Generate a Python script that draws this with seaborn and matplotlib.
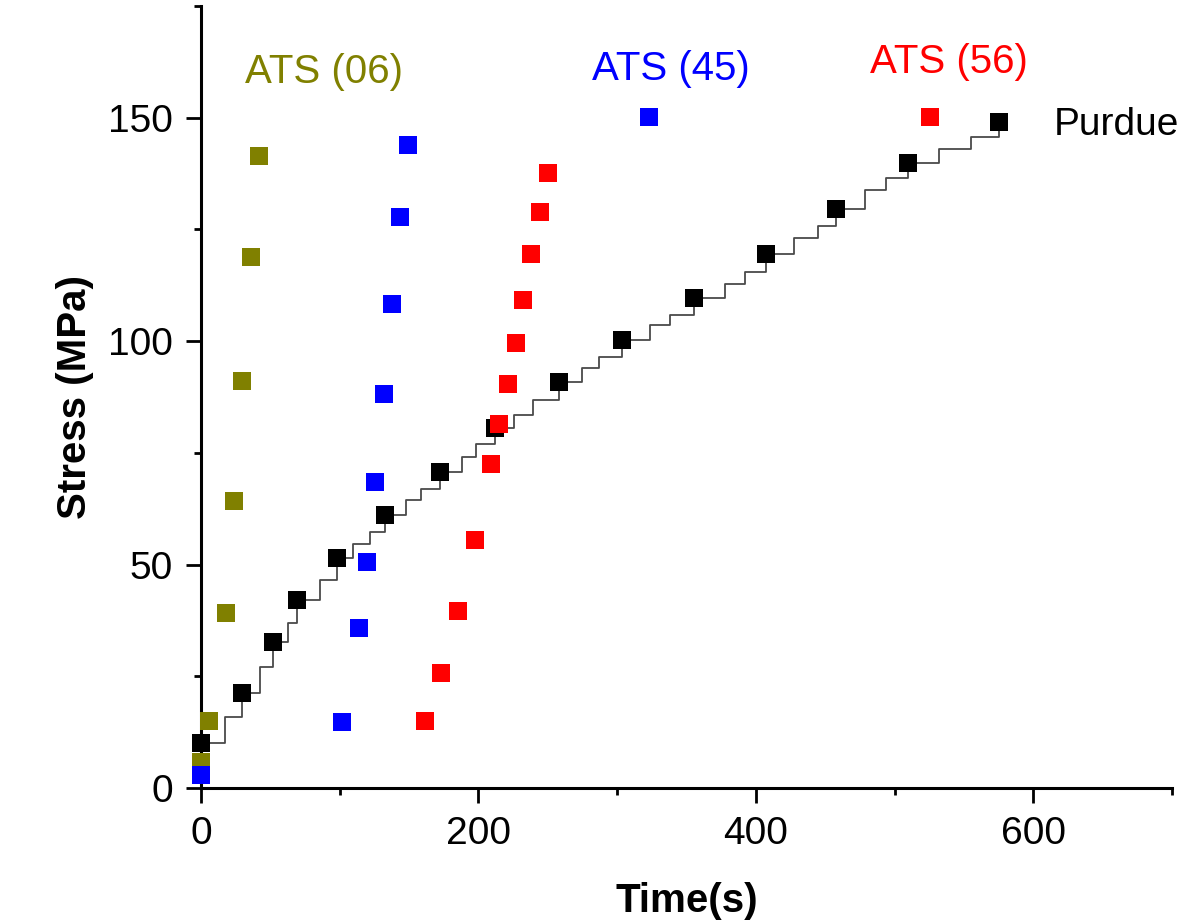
import numpy as np
import pandas as pd
import seaborn as sns
import matplotlib
matplotlib.use("Agg")
import matplotlib.pyplot as plt
from matplotlib.ticker import MultipleLocator

# Creep-loading data: time (s) vs. applied stress (MPa)
ats06_time = [0, 6, 18, 23.7, 29.5, 36, 41.9]
ats06_stress = [5.9, 15.0, 39.1, 64.2, 91.0, 118.9, 141.5]

ats45_time = [0, 101.9, 113.7, 119.4, 125.2, 131.7, 137.4, 143.4, 149.6, 323]
ats45_stress = [2.9, 14.8, 35.9, 50.6, 68.5, 88.1, 108.3, 127.8, 143.8, 150.2]

ats56_time = [161.4, 173.4, 185.3, 197.3, 209.4, 215.1, 221.1, 227.3, 232.4,
              238.1, 244.6, 250.4, 525.7]
ats56_stress = [15.1, 25.8, 39.6, 55.4, 72.6, 81.4, 90.3, 99.6, 109.2,
                119.5, 128.9, 137.6, 150.2]

purdue_time = [0, 29.3, 52.1, 69, 97.8, 132.6, 172.2, 212, 258, 303.4,
               355.4, 407.4, 458, 510, 575.5]
purdue_stress = [10.1, 21.2, 32.6, 42.1, 51.5, 61.0, 70.8, 80.6, 90.8, 100.2,
                 109.6, 119.5, 129.5, 139.8, 149.1]

# Staircase load history of the Purdue test (value holds until next time)
step_time = [0, 17.3, 29.3, 42.4, 52.1, 62.6, 69, 85.6, 97.8, 109.8, 121.8,
             132.6, 147.5, 158.3, 172.2, 188.2, 198.3, 212, 225.4, 239.6, 258,
             275, 286.6, 303.4, 323.7, 338, 355.4, 377.5, 391.9, 407.4, 427.5,
             444.6, 458, 478.4, 494, 510, 532, 555, 575.5]
step_stress = [10.1, 15.9, 21.2, 27.1, 32.6, 36.9, 42.1, 46.6, 51.5, 54.5, 57.2,
               61.0, 64.4, 66.9, 70.8, 74.1, 76.9, 80.6, 83.4, 86.8, 90.8,
               93.9, 96.5, 100.2, 103.6, 105.8, 109.6, 112.8, 115.4, 119.5, 123.0,
               125.8, 129.5, 133.8, 136.4, 139.8, 143.0, 145.7, 149.1]

series_names = ["ATS (06)", "ATS (45)", "ATS (56)"]
series_colors = ["#808000", "#0000FF", "#FF0000"]

sns.set_style("ticks")
plt.rcParams["font.family"] = ["Liberation Sans", "DejaVu Sans"]
plt.rcParams["text.color"] = "black"
plt.rcParams["axes.labelcolor"] = "black"

fig = plt.figure(figsize=(11.8, 9.21), dpi=100)
ax = fig.add_axes([0.1703, 0.1444, 0.8229, 0.8491])

steps = pd.DataFrame({"t": step_time, "s": step_stress})
sns.lineplot(data=steps, x="t", y="s", ax=ax, drawstyle="steps-post",
             color="#4a4a4a", linewidth=1.3, estimator=None, sort=False,
             zorder=2, clip_on=False)

purdue = pd.DataFrame({"t": purdue_time, "s": purdue_stress})
sns.scatterplot(data=purdue, x="t", y="s", ax=ax, marker="s", s=150,
                color="black", linewidth=0, zorder=3, clip_on=False)

ats_sets = [(ats06_time, ats06_stress), (ats45_time, ats45_stress),
            (ats56_time, ats56_stress)]
for (tt, ss), col in zip(ats_sets, series_colors):
    df = pd.DataFrame({"t": tt, "s": ss})
    sns.scatterplot(data=df, x="t", y="s", ax=ax, marker="s", s=150,
                    color=col, linewidth=0, zorder=4, clip_on=False)

# Series labels placed in data coordinates
label_pos = [(31.7, 157.8), (281.7, 158.4), (482.3, 159.9)]
for name, col, (lx, ly) in zip(series_names, series_colors, label_pos):
    ax.text(lx, ly, name, color=col, fontsize=29, ha="left", va="baseline")
ax.text(614.5, 146.1, "Purdue", color="black", fontsize=28, ha="left",
        va="baseline", clip_on=False)

ax.set_xlim(0, 700)
ax.set_ylim(0, 175)
ax.xaxis.set_major_locator(MultipleLocator(200))
ax.xaxis.set_minor_locator(MultipleLocator(100))
ax.yaxis.set_major_locator(MultipleLocator(50))
ax.yaxis.set_minor_locator(MultipleLocator(25))

ax.tick_params(which="major", direction="out", length=11, width=2,
               labelsize=28, pad=9, color="black", labelcolor="black")
ax.tick_params(which="minor", direction="out", length=5, width=2,
               color="black")

for side in ["top", "right"]:
    ax.spines[side].set_visible(False)
for side in ["left", "bottom"]:
    ax.spines[side].set_linewidth(2.2)
    ax.spines[side].set_color("black")
    ax.spines[side].set_zorder(1)

ax.set_xlabel("Time(s)", fontsize=29, fontweight="bold", labelpad=22,
              color="black")
ax.set_ylabel("Stress (MPa)", fontsize=29, fontweight="bold", labelpad=10,
              color="black")

fig.savefig("out.png", dpi=100)
